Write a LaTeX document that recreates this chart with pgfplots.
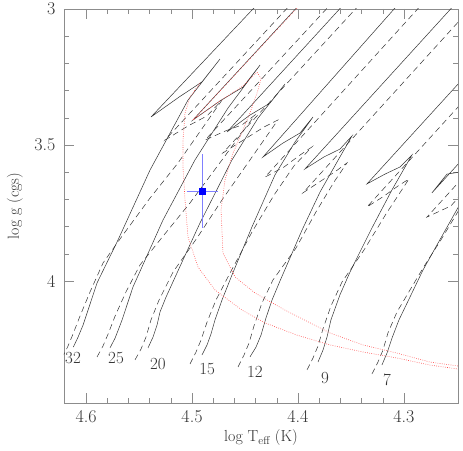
\documentclass[border=0pt]{standalone}
\usepackage{pgfplots}
\pgfplotsset{compat=1.18}
\begin{document}
\begin{tikzpicture}
\begin{axis}[
  scale only axis, width=394pt, height=394pt,
  x dir=reverse, y dir=reverse,
  xmin=4.249, xmax=4.6208, ymin=3, ymax=4.4485,
  xtick={4.3,4.4,4.5,4.6}, xticklabels={4.3,4.4,4.5,4.6},
  ytick={3,3.5,4}, yticklabels={3,3.5,4},
  minor x tick num=4, minor y tick num=4,
  tick align=inside, major tick length=10pt, minor tick length=5pt,
  axis line style={black!45}, every tick/.style={black!45},
  tick label style={font=\fontsize{18}{20}\selectfont, text=black!80},
  xticklabel style={yshift=-3.5pt}, yticklabel style={xshift=-5pt},
  label style={font=\fontsize{16}{18}\selectfont, text=black!80},
  xlabel={log T\textsubscript{eff} (K)}, ylabel={log g (cgs)},
  xlabel style={at={(axis description cs:0.5,-0.0888)}, anchor=center},
  ylabel style={at={(axis description cs:-0.1244,0.5)}, anchor=center},
  trk/.style={black!80, line width=0.5pt},
  rot/.style={black!80, line width=0.5pt, dash pattern=on 6pt off 4pt},
  iso/.style={red!70, line width=0.6pt, dash pattern=on 0.7pt off 1.5pt},
]
% solid tracks
\addplot[trk] coordinates {(4.612,4.243)(4.6075,4.206)(4.6028,4.162)(4.5981,4.107)(4.5896,4.007)(4.5698,3.849)(4.5396,3.592)(4.5038,3.335)(4.4736,3.184)(4.4906,3.268)(4.5123,3.324)(4.5387,3.397)(4.4255,2.930)};
\addplot[trk] coordinates {(4.5774,4.246)(4.5726,4.210)(4.5689,4.173)(4.5660,4.143)(4.5557,4.022)(4.5274,3.776)(4.4972,3.555)(4.4660,3.364)(4.4358,3.206)(4.4519,3.287)(4.4736,3.338)(4.4991,3.408)(4.3858,2.930)};
\addplot[trk] coordinates {(4.5415,4.246)(4.5368,4.206)(4.5330,4.162)(4.5302,4.114)(4.5245,4.059)(4.5094,3.930)(4.4925,3.787)(4.4623,3.555)(4.4377,3.401)(4.4123,3.276)(4.4264,3.346)(4.4453,3.390)(4.4670,3.452)(4.3443,2.930)};
\addplot[trk] coordinates {(4.4906,4.272)(4.4858,4.235)(4.4821,4.195)(4.4783,4.143)(4.4717,4.070)(4.4623,3.978)(4.4434,3.801)(4.4217,3.610)(4.4028,3.489)(4.3858,3.397)(4.3981,3.456)(4.4142,3.493)(4.4330,3.544)(4.2934,2.930)};
\addplot[trk] coordinates {(4.4453,4.279)(4.4396,4.243)(4.4349,4.199)(4.4302,4.136)(4.4245,4.070)(4.4170,4.000)(4.4075,3.915)(4.3962,3.813)(4.3792,3.673)(4.3632,3.563)(4.3491,3.467)(4.3604,3.515)(4.3755,3.544)(4.3934,3.588)(4.2396,2.930)};
\addplot[trk] coordinates {(4.3811,4.298)(4.3764,4.254)(4.3726,4.206)(4.3689,4.143)(4.3604,4.051)(4.3509,3.967)(4.3415,3.893)(4.3302,3.805)(4.3113,3.665)(4.2925,3.537)(4.3038,3.581)(4.3179,3.607)(4.3349,3.643)(4.2377,3.228)};
\addplot[trk] coordinates {(4.3208,4.309)(4.3160,4.265)(4.3113,4.210)(4.3047,4.143)(4.2943,4.059)(4.2821,3.960)(4.2689,3.868)(4.2566,3.783)(4.2396,3.665)(4.2226,3.548)(4.2462,3.599)(4.2594,3.607)(4.2736,3.676)(4.2283,3.482)};
% dashed tracks
\addplot[rot] coordinates {(4.6226,4.283)(4.6170,4.239)(4.6123,4.195)(4.6057,4.129)(4.5962,4.040)(4.5840,3.934)(4.5660,3.835)(4.5396,3.695)(4.5132,3.566)(4.4717,3.335)(4.4858,3.393)(4.5038,3.430)(4.5255,3.482)(4.3943,2.930)};
\addplot[rot] coordinates {(4.5896,4.279)(4.5840,4.239)(4.5792,4.195)(4.5726,4.129)(4.5623,4.040)(4.5491,3.941)(4.5302,3.849)(4.5019,3.713)(4.4717,3.555)(4.4406,3.390)(4.4528,3.426)(4.4689,3.449)(4.4877,3.482)(4.3566,2.930)};
\addplot[rot] coordinates {(4.5538,4.290)(4.5481,4.250)(4.5434,4.206)(4.5387,4.143)(4.5311,4.070)(4.5179,3.967)(4.4953,3.842)(4.4717,3.702)(4.4453,3.555)(4.4189,3.408)(4.4321,3.434)(4.4500,3.478)(4.4708,3.529)(4.3292,2.930)};
\addplot[rot] coordinates {(4.5019,4.305)(4.4962,4.261)(4.4915,4.217)(4.4858,4.151)(4.4774,4.070)(4.4651,3.978)(4.4434,3.820)(4.4226,3.684)(4.4038,3.577)(4.3868,3.507)(4.3981,3.537)(4.4132,3.581)(4.4311,3.618)(4.2708,2.930)};
\addplot[rot] coordinates {(4.4566,4.316)(4.4509,4.272)(4.4462,4.228)(4.4415,4.165)(4.4340,4.081)(4.4236,3.996)(4.4019,3.879)(4.3830,3.746)(4.3660,3.636)(4.3538,3.566)(4.3642,3.596)(4.3783,3.632)(4.3953,3.676)(4.2283,2.960)};
\addplot[rot] coordinates {(4.3915,4.327)(4.3858,4.283)(4.3811,4.239)(4.3764,4.176)(4.3689,4.092)(4.3585,4.004)(4.3377,3.886)(4.3170,3.754)(4.2953,3.625)(4.3057,3.651)(4.3189,3.688)(4.3349,3.728)(4.2283,3.272)};
\addplot[rot] coordinates {(4.3302,4.342)(4.3245,4.298)(4.3198,4.254)(4.3151,4.191)(4.3066,4.114)(4.2943,4.033)(4.2802,3.941)(4.2651,3.849)(4.2509,3.757)(4.2358,3.658)(4.2236,3.585)(4.2396,3.654)(4.2557,3.724)(4.2783,3.765)(4.2283,3.551)};
% red dotted curves
\addplot[iso] coordinates {(4.4925,3.272)(4.5019,3.324)(4.5066,3.382)(4.5085,3.482)(4.5085,3.581)(4.5066,3.702)(4.5038,3.838)(4.4943,3.949)(4.4783,4.033)(4.4642,4.074)(4.4528,4.107)(4.4311,4.154)(4.4009,4.199)(4.3698,4.235)(4.3387,4.261)(4.3066,4.283)(4.2755,4.309)(4.2425,4.327)};
\addplot[iso] coordinates {(4.3981,2.985)(4.4991,3.408)(4.4736,3.338)(4.4519,3.283)(4.4387,3.232)(4.4349,3.254)(4.4377,3.298)(4.4453,3.382)(4.4547,3.471)(4.4613,3.529)(4.4689,3.629)(4.4726,3.739)(4.4708,3.897)(4.4594,3.985)(4.4406,4.044)(4.4123,4.107)(4.3698,4.191)(4.3387,4.235)(4.3066,4.265)(4.2755,4.298)(4.2425,4.316)};
% observed star
\addplot[blue, mark=square*, mark size=2.8pt, only marks,
  error bars/.cd, x dir=both, x explicit, y dir=both, y explicit,
  error bar style={blue!50, line width=0.6pt},
  error mark options={blue!50, mark size=4pt, line width=0.6pt}]
  coordinates {(4.4903,3.669) +- (0.011,0.12)};
% mass labels
\begin{scope}[every node/.style={font=\fontsize{17}{19}\selectfont, text=black!80}]
\node at (axis cs:4.6123,4.283) {32};
\node at (axis cs:4.5717,4.283) {25};
\node at (axis cs:4.5321,4.305) {20};
\node at (axis cs:4.4858,4.324) {15};
\node at (axis cs:4.4406,4.335) {12};
\node at (axis cs:4.3745,4.357) {9};
\node at (axis cs:4.3160,4.364) {7};
\end{scope}
\end{axis}
\pgfresetboundingbox
\path[use as bounding box] ([xshift=-64pt,yshift=-48pt]current axis.south west) rectangle ([xshift=5pt,yshift=9pt]current axis.north east);
\end{tikzpicture}
\end{document}
